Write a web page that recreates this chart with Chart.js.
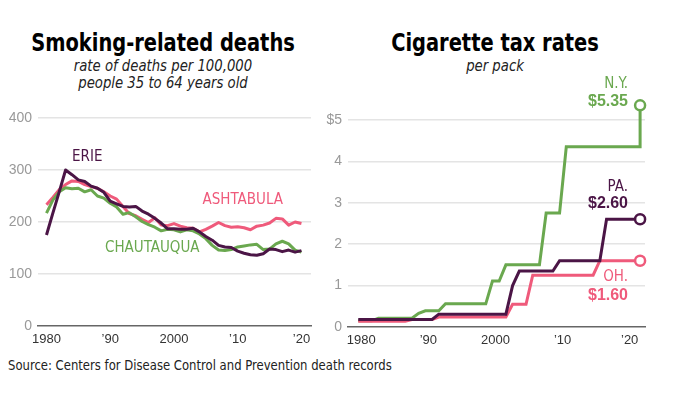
<!DOCTYPE html>
<html>
<head>
<meta charset="utf-8">
<script src="https://cdn.jsdelivr.net/npm/chart.js@4.4.1/dist/chart.umd.min.js"></script>
<style>
  body { margin: 0; background: #fff; width: 673px; height: 394px; position: relative; overflow: hidden;
         font-family: "DejaVu Sans Condensed", "Liberation Sans", sans-serif; color: #111; }
  .titulo { position: absolute; width: 340px; text-align: center; font-weight: bold; font-size: 24px; line-height: 24px; color: #000;
            transform: scaleX(0.9); transform-origin: center; }
  .sub { position: absolute; width: 340px; text-align: center; font-style: italic; font-size: 16px; line-height: 16.6px; color: #222;
         transform: scaleX(0.92); transform-origin: center; }
  .fonte { position: absolute; left: 8px; top: 357px; font-size: 14px; line-height: 16px; color: #222;
           transform: scaleX(0.925); transform-origin: left; white-space: nowrap; }
  canvas { position: absolute; }
</style>
</head>
<body>
<div class="titulo" style="left:-7px; top:31px;">Smoking-related deaths</div>
<div class="sub" style="left:-7px; top:58px;">rate of deaths per 100,000<br>people 35 to 64 years old</div>
<div class="titulo" style="left:325px; top:31px;">Cigarette tax rates</div>
<div class="sub" style="left:325px; top:58px;">per pack</div>
<canvas id="graficoMortes" width="336" height="250" style="left:0; top:100px;"></canvas>
<canvas id="graficoImposto" width="355" height="291" style="left:318px; top:60px;"></canvas>
<div class="fonte">Source: Centers for Disease Control and Prevention death records</div>

<script>
const anos = [1980, 1981, 1982, 1983, 1984, 1985, 1986, 1987, 1988, 1989,
  1990, 1991, 1992, 1993, 1994, 1995, 1996, 1997, 1998, 1999,
  2000, 2001, 2002, 2003, 2004, 2005, 2006, 2007, 2008, 2009,
  2010, 2011, 2012, 2013, 2014, 2015, 2016, 2017, 2018, 2019, 2020];

const erie = [175, 217, 258, 300, 291, 281, 278, 269, 265, 257,
  240, 235, 230, 229, 230, 221, 215, 207, 198, 187,
  187, 186, 186, 188, 181, 172, 165, 155, 152, 151,
  144, 140, 137, 136, 139, 148, 147, 143, 146, 142, 145];

const ashtabula = [233, 247, 262, 272, 279, 278, 272, 268, 265, 258,
  250, 244, 230, 216, 212, 205, 199, 208, 194, 193,
  197, 192, 189, 188, 181, 186, 192, 199, 193, 190,
  191, 189, 185, 192, 194, 198, 207, 206, 194, 200, 197];

const chautauqua = [217, 242, 258, 266, 264, 265, 258, 262, 250, 246,
  236, 229, 215, 218, 210, 201, 195, 190, 183, 186,
  185, 181, 185, 183, 177, 168, 155, 146, 145, 147,
  152, 154, 156, 157, 147, 148, 158, 163, 158, 146, 142];

const anosImposto = [1980, 1981, 1982, 1983, 1984, 1985, 1986, 1987, 1988, 1989,
  1990, 1991, 1992, 1993, 1994, 1995, 1996, 1997, 1998, 1999,
  2000, 2001, 2002, 2003, 2004, 2005, 2006, 2007, 2008, 2009,
  2010, 2011, 2012, 2013, 2014, 2015, 2016, 2017, 2018, 2019,
  2020, 2021, 2022];

const ny = [0.15, 0.15, 0.15, 0.21, 0.21, 0.21, 0.21, 0.21, 0.21, 0.33,
  0.39, 0.39, 0.39, 0.56, 0.56, 0.56, 0.56, 0.56, 0.56, 0.56,
  1.11, 1.11, 1.50, 1.50, 1.50, 1.50, 1.50, 1.50, 2.75, 2.75,
  2.75, 4.35, 4.35, 4.35, 4.35, 4.35, 4.35, 4.35, 4.35, 4.35,
  4.35, 4.35, 4.35];
const nyAtual = 5.35;

const pa = [0.18, 0.18, 0.18, 0.18, 0.18, 0.18, 0.18, 0.18, 0.18, 0.18,
  0.18, 0.18, 0.31, 0.31, 0.31, 0.31, 0.31, 0.31, 0.31, 0.31,
  0.31, 0.31, 0.31, 1.00, 1.35, 1.35, 1.35, 1.35, 1.35, 1.35,
  1.60, 1.60, 1.60, 1.60, 1.60, 1.60, 1.60, 2.60, 2.60, 2.60,
  2.60, 2.60, 2.60];

const oh = [0.14, 0.14, 0.14, 0.14, 0.14, 0.14, 0.14, 0.14, 0.18, 0.18,
  0.18, 0.18, 0.24, 0.24, 0.24, 0.24, 0.24, 0.24, 0.24, 0.24,
  0.24, 0.24, 0.24, 0.55, 0.55, 0.55, 1.25, 1.25, 1.25, 1.25,
  1.25, 1.25, 1.25, 1.25, 1.25, 1.25, 1.60, 1.60, 1.60, 1.60,
  1.60, 1.60, 1.60];

const marcasAno = [1980, 1990, 2000, 2010, 2020];
const rotulosAno = {1980: '1980', 1990: '\u201990', 2000: '2000', 2010: '\u201910', 2020: '\u201920'};

const verde = '#6aa84f';
const roxo = '#4b1546';
const rosa = '#ef5a7b';
const cinzaGrade = '#e4e4e4';

function pontos(xs, ys) {
  return ys.map((v, i) => ({x: xs[i], y: v}));
}

// texto direto no grafico, posicionado em coordenadas dos eixos
const rotulos = {
  id: 'rotulos',
  afterDatasetsDraw(chart, args, opts) {
    const {ctx, scales: {x, y}} = chart;
    ctx.save();
    ctx.textBaseline = 'middle';
    opts.itens.forEach(r => {
      ctx.font = r.fonte;
      ctx.fillStyle = r.cor;
      ctx.textAlign = r.alinha || 'center';
      ctx.fillText(r.texto, x.getPixelForValue(r.x), y.getPixelForValue(r.y));
    });
    ctx.restore();
  }
};

const fonteRotulo = '15px "DejaVu Sans Condensed", sans-serif';
const fonteValor = 'bold 16px "Liberation Sans", sans-serif';

function eixoX(min, max, deslocamento) {
  return {
    type: 'linear', min: min, max: max,
    afterFit(scale) { scale.height = 24; },
    afterBuildTicks(scale) { scale.ticks = marcasAno.map(v => ({value: v})); },
    grid: {display: false, drawTicks: false},
    border: {display: true, color: '#666', width: 1.5},
    ticks: {
      padding: 6, labelOffset: deslocamento, color: '#333', maxRotation: 0, autoSkip: false,
      font: {family: 'Liberation Sans', size: 13},
      callback: v => rotulosAno[v]
    }
  };
}

function eixoY(max, marcas, largura, formato) {
  return {
    min: 0, max: max,
    afterFit(scale) { scale.width = largura; },
    afterBuildTicks(scale) { scale.ticks = marcas.map(v => ({value: v})); },
    grid: {drawTicks: false, lineWidth: 1.5, color: c => c.tick && c.tick.value === 0 ? 'rgba(0,0,0,0)' : cinzaGrade},
    border: {display: false},
    ticks: {padding: 6, color: '#999', font: {family: 'Liberation Sans', size: 14}, callback: formato}
  };
}

const graficoMortes = new Chart(document.getElementById('graficoMortes'), {
  type: 'line',
  data: {
    datasets: [
      {label: 'Erie', data: pontos(anos, erie), borderColor: roxo, borderWidth: 3},
      {label: 'Chautauqua', data: pontos(anos, chautauqua), borderColor: verde, borderWidth: 3},
      {label: 'Ashtabula', data: pontos(anos, ashtabula), borderColor: rosa, borderWidth: 3}
    ]
  },
  options: {
    responsive: false, animation: false, devicePixelRatio: 1,
    layout: {padding: {top: 18, right: 25, bottom: 0, left: 0}},
    elements: {point: {radius: 0}, line: {tension: 0, borderJoinStyle: 'round'}},
    scales: {
      x: eixoX(1978.67, 2021.5, 0),
      y: eixoY(400, [0, 100, 200, 300, 400], 38, v => v)
    },
    plugins: {
      legend: {display: false}, tooltip: {enabled: false},
      rotulos: {itens: [
        {texto: 'ERIE', x: 1986.4, y: 325, cor: roxo, fonte: fonteRotulo},
        {texto: 'ASHTABULA', x: 2010.8, y: 242, cor: rosa, fonte: fonteRotulo},
        {texto: 'CHAUTAUQUA', x: 1996.6, y: 150, cor: verde, fonte: fonteRotulo}
      ]}
    }
  },
  plugins: [rotulos]
});

const ultimo = c => c.dataIndex === c.dataset.data.length - 1 ? 5 : 0;

const graficoImposto = new Chart(document.getElementById('graficoImposto'), {
  type: 'line',
  data: {
    datasets: [
      {label: 'PA', data: pontos(anosImposto, pa), borderColor: roxo},
      {label: 'OH', data: pontos(anosImposto, oh), borderColor: rosa},
      {label: 'NY', data: pontos(anosImposto, ny).concat([{x: anosImposto[anosImposto.length - 1], y: nyAtual}]), borderColor: verde}
    ]
  },
  options: {
    responsive: false, animation: false, devicePixelRatio: 1,
    layout: {padding: {top: 35, right: 28, bottom: 0, left: 0}},
    elements: {
      point: {radius: ultimo, backgroundColor: '#fff', borderWidth: 2.5},
      line: {tension: 0, borderWidth: 3, borderJoinStyle: 'miter'}
    },
    datasets: {line: {clip: false, pointBorderColor: c => c.dataset.borderColor}},
    scales: {
      x: eixoX(1978.47, 2022.73, 3),
      y: eixoY(5.6, [0, 1, 2, 3, 4, 5], 30, v => v === 5 ? '$5' : v)
    },
    plugins: {
      legend: {display: false}, tooltip: {enabled: false},
      rotulos: {itens: [
        {texto: 'N.Y.', x: 2020.2, y: 5.87, cor: verde, fonte: fonteRotulo, alinha: 'right'},
        {texto: '$5.35', x: 2020.2, y: 5.44, cor: verde, fonte: fonteValor, alinha: 'right'},
        {texto: 'PA.', x: 2020.2, y: 3.38, cor: roxo, fonte: fonteRotulo, alinha: 'right'},
        {texto: '$2.60', x: 2020.2, y: 2.99, cor: roxo, fonte: fonteValor, alinha: 'right'},
        {texto: 'OH.', x: 2020.2, y: 1.20, cor: rosa, fonte: fonteRotulo, alinha: 'right'},
        {texto: '$1.60', x: 2020.2, y: 0.76, cor: rosa, fonte: fonteValor, alinha: 'right'}
      ]}
    }
  },
  plugins: [rotulos]
});
</script>
</body>
</html>
